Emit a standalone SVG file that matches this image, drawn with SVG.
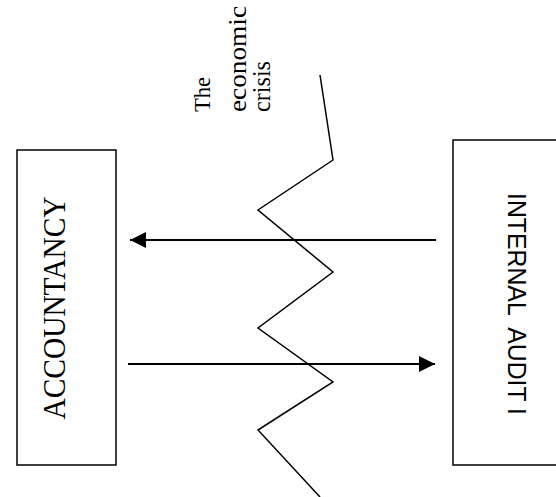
<svg xmlns="http://www.w3.org/2000/svg" width="556" height="497" viewBox="0 0 556 497">
<defs>
<style>
.box{fill:#fff;stroke:#000;stroke-width:1.5}
.conn{fill:none;stroke:#000;stroke-width:2}
.zig{fill:none;stroke:#000;stroke-width:1.5;stroke-linejoin:miter}
.serif{font-family:"Liberation Serif","Times New Roman",serif;fill:#000}
.sans{font-family:"Liberation Sans",Arial,sans-serif;fill:#000}
</style>
<marker id="ah" markerUnits="userSpaceOnUse" markerWidth="17" markerHeight="16" refX="16" refY="8" orient="auto">
<path d="M0,0 L16,8 L0,16 Z" fill="#000"/>
</marker>
</defs>
<rect width="556" height="497" fill="#fff"/>
<g id="accountancy">
<rect class="box" x="17" y="150" width="99" height="315"/>
<text class="serif" font-size="31" transform="translate(65,308) rotate(-90)" text-anchor="middle" textLength="223" lengthAdjust="spacingAndGlyphs">ACCOUNTANCY</text>
</g>
<g id="internal-audit">
<rect class="box" x="453" y="140" width="110" height="325"/>
<text class="sans" font-size="26" transform="translate(508,304) rotate(90)" text-anchor="middle" textLength="222" lengthAdjust="spacingAndGlyphs" xml:space="preserve">INTERNAL  AUDIT I</text>
</g>
<g id="crisis">
<polyline class="zig" points="320,75 333,160 258,210 333,272 258,328 333,382 258,430 320,497"/>
<text class="serif" font-size="24" transform="translate(210,112) rotate(-90)" textLength="35" lengthAdjust="spacingAndGlyphs">The</text>
<text class="serif" font-size="25" transform="translate(246,112) rotate(-90)" textLength="106" lengthAdjust="spacingAndGlyphs">economic</text>
<text class="serif" font-size="25" transform="translate(270,112) rotate(-90)" textLength="51" lengthAdjust="spacingAndGlyphs">crisis</text>
</g>
<g id="connectors">
<line class="conn" x1="436" y1="240" x2="130" y2="240" marker-end="url(#ah)"/>
<line class="conn" x1="128" y1="364" x2="435" y2="364" marker-end="url(#ah)"/>
</g>
</svg>
